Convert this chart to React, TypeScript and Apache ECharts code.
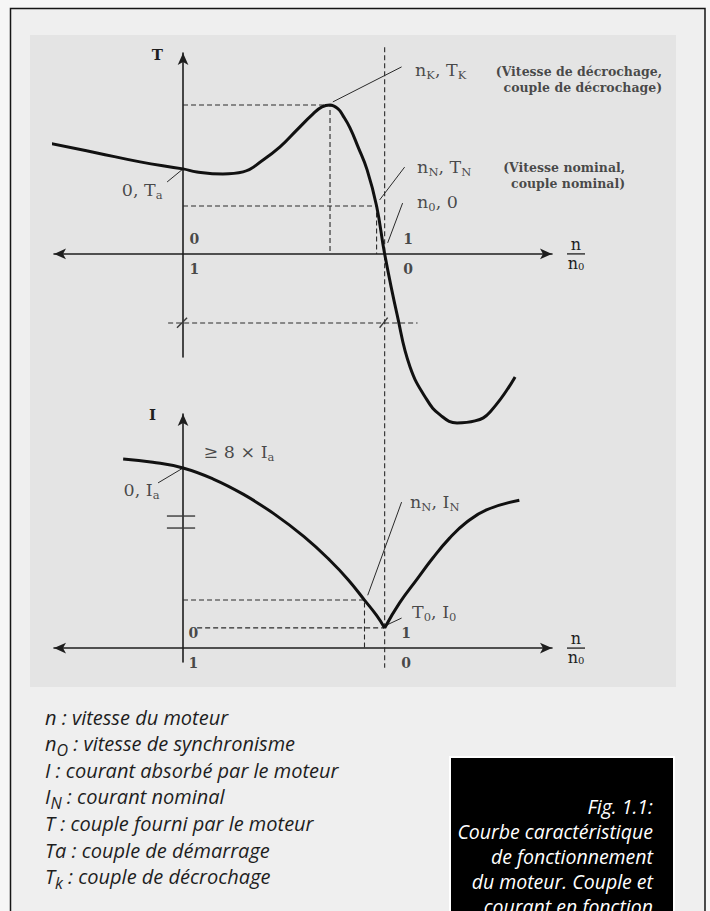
import React, { useEffect, useRef } from 'react';
import * as echarts from 'echarts';

// Torque curve: speed ratio n/n0 and torque (T_N = 1)
const torqueSpeed = [-0.67, -0.427, -0.213, 0, 0.069, 0.198, 0.298, 0.397, 0.481, 0.565, 0.645, 0.689, 0.729, 0.769, 0.794, 0.828, 0.868, 0.913, 0.96, 1.0, 1.062, 1.126, 1.21, 1.275, 1.359, 1.448, 1.523, 1.647];
const torqueValue = [2.315, 2.106, 1.919, 1.773, 1.71, 1.668, 1.71, 1.96, 2.231, 2.586, 2.92, 3.066, 3.107, 3.024, 2.878, 2.628, 2.231, 1.752, 1.0, 0, -1.272, -2.357, -3.045, -3.358, -3.525, -3.483, -3.295, -2.565];

// Current curve (I_N = 1): branch below synchronism, then branch above it
const currentSpeedLow = [-0.297, -0.15, 0, 0.15, 0.3, 0.45, 0.6, 0.728, 0.82, 0.9, 0.96, 1.0];
const currentValueLow = [3.94, 3.87, 3.75, 3.52, 3.2, 2.8, 2.32, 1.83, 1.42, 1.0, 0.68, 0.42];
const currentSpeedHigh = [1.0, 1.074, 1.158, 1.238, 1.322, 1.406, 1.505, 1.668];
const currentValueHigh = [0.42, 0.94, 1.42, 1.87, 2.29, 2.62, 2.88, 3.08];

// Characteristic points
const pullOutSpeed = 0.729; // n_K
const pullOutTorque = 3.107; // T_K
const nominalSpeed = 0.96; // n_N
const nominalTorque = 1.0; // T_N
const startTorque = 1.773; // T_a
const nominalCurrentSpeed = 0.9;
const nominalCurrent = 1.0; // I_N
const noLoadCurrent = 0.42; // I_0
const startCurrent = 3.75; // I_a
const dimensionLevel = -1.44;

// Tick labels: n/n0 above the axis, slip below it
const speedTicks = [0, 1];
const speedLabels = ['0', '1'];
const slipLabels = ['1', '0'];

const legendItems: [string, string, string][] = [
  ['n', '', 'vitesse du moteur'],
  ['n', 'O', 'vitesse de synchronisme'],
  ['I', '', 'courant absorbé par le moteur'],
  ['I', 'N', 'courant nominal'],
  ['T', '', 'couple fourni par le moteur'],
  ['Ta', '', 'couple de démarrage'],
  ['T', 'k', 'couple de décrochage'],
];

const captionLines = [
  'Fig. 1.1:',
  'Courbe caractéristique',
  'de fonctionnement',
  'du moteur. Couple et',
  'courant en fonction',
];

const SERIF = '"DejaVu Serif", "Liberation Serif", serif';
const SANS = '"Open Sans", Lato, sans-serif';
const INK = '#1e1e1e';

const X_MIN = -0.64;
const X_MAX = 1.83;
const T_MIN = -2.15;
const T_MAX = 4.19;
const I_MIN = -0.29;
const I_MAX = 4.875;

const zip = (xs: number[], ys: number[]) => xs.map((x, i) => [x, ys[i]]);

const annotationRich = {
  m: { fontFamily: SERIF, fontSize: 17.5, color: INK, lineHeight: 20 },
  s: { fontFamily: SERIF, fontSize: 11.5, color: INK, lineHeight: 14, padding: [10, 0, 0, 0] },
  t: { fontFamily: SERIF, fontWeight: 'bold', fontSize: 14, color: INK, lineHeight: 30 },
};

const fractionRich = {
  n: { fontFamily: SERIF, fontSize: 16, color: INK, lineHeight: 18, align: 'center' },
  bar: { width: 18, height: 1.3, backgroundColor: INK, align: 'center' },
  z: { fontFamily: SERIF, fontSize: 10, color: INK, lineHeight: 18, padding: [6, 0, 0, 0], align: 'center' },
};

function speedAxis(gridIndex: number) {
  return {
    type: 'value',
    gridIndex,
    min: X_MIN,
    max: X_MAX,
    position: 'bottom',
    axisLine: {
      show: true,
      onZero: true,
      symbol: ['arrow', 'arrow'],
      symbolSize: [8, 12],
      lineStyle: { color: INK, width: 1.6 },
    },
    axisTick: { show: false },
    splitLine: { show: false },
    axisLabel: { show: false },
    name: '{n|n}\n{bar|}\n{n|n}{z|0}',
    nameLocation: 'end',
    nameGap: 15,
    nameMoveOverlap: false,
    nameTextStyle: { rich: fractionRich },
  };
}

function valueAxis(gridIndex: number, min: number, max: number, name: string, padRight: number, gap: number) {
  return {
    type: 'value',
    gridIndex,
    min,
    max,
    axisLine: {
      show: true,
      onZero: true,
      symbol: ['none', 'arrow'],
      symbolSize: [8, 12],
      lineStyle: { color: INK, width: 1.6 },
    },
    axisTick: { show: false },
    axisLabel: { show: false },
    splitLine: { show: false },
    name,
    nameLocation: 'end',
    nameGap: gap,
    nameMoveOverlap: false,
    nameTextStyle: {
      align: 'right',
      verticalAlign: 'middle',
      padding: [0, padRight, 0, 0],
      fontFamily: SERIF,
      fontWeight: 'bold',
      fontSize: 15,
      color: INK,
    },
  };
}

function path(data: number[][], axis: number, lineStyle: any, smooth: number | boolean = false) {
  return {
    type: 'line',
    xAxisIndex: axis,
    yAxisIndex: axis,
    data,
    smooth,
    symbol: 'none',
    clip: false,
    silent: true,
    lineStyle,
  };
}

const curveStyle = { color: '#111', width: 3 };
const guideStyle = { color: '#2a2a2a', width: 1.1, type: [5, 3] };
const leaderStyle = { color: '#2a2a2a', width: 1 };
const markStyle = { color: '#3a3a3a', width: 1.4 };

function notes(axis: number, data: any[]) {
  return {
    type: 'scatter',
    xAxisIndex: axis,
    yAxisIndex: axis,
    symbolSize: 1,
    clip: false,
    silent: true,
    itemStyle: { color: 'rgba(0,0,0,0)' },
    label: {
      show: true,
      position: 'right',
      distance: 0,
      color: INK,
      fontFamily: SERIF,
      fontSize: 16,
      rich: annotationRich,
    },
    data,
  };
}

// n/n0 value above the axis and slip value below it, at each tick
function tickNotes(pads: number[]) {
  return speedTicks.map((v, i) => ({
    value: [v, 0],
    label: {
      formatter: `{t|${speedLabels[i]}}\n{t|${slipLabels[i]}}`,
      offset: [pads[i], 0],
    },
  }));
}

const descStyle = {
  fontFamily: SERIF,
  fontWeight: 'bold',
  fontSize: 12.5,
  lineHeight: 16,
  align: 'right',
  color: INK,
};

function buildOption() {
  const legendGraphics = legendItems.map(([sym, sub, text], i) => ({
    type: 'text',
    z: 10,
    silent: true,
    style: {
      x: 45,
      y: 717 + i * 26.6,
      verticalAlign: 'middle',
      text: sub ? `{m|${sym}}{s|${sub}}{m| : ${text}}` : `{m|${sym} : ${text}}`,
      fill: INK,
      font: `italic 20px ${SANS}`,
      rich: {
        m: { font: `italic 20px ${SANS}`, fill: INK, lineHeight: 20 },
        s: { font: `italic 16px ${SANS}`, fill: INK, lineHeight: 10, padding: [12, 0, 0, 0] },
      },
    },
  }));

  return {
    animation: false,
    backgroundColor: '#f6f6f6',
    grid: [
      { left: 54, top: 53, width: 498, height: 304 },
      { left: 54, top: 414, width: 498, height: 248 },
    ],
    xAxis: [speedAxis(0), speedAxis(1)],
    yAxis: [valueAxis(0, T_MIN, T_MAX, 'T', 20, -2), valueAxis(1, I_MIN, I_MAX, 'I', 27, -1)],
    graphic: [
      {
        type: 'rect',
        z: -20,
        silent: true,
        shape: { x: 10.5, y: 8.5, width: 694.5, height: 1000 },
        style: { fill: '#efefef', stroke: '#151515', lineWidth: 1.5 },
      },
      {
        type: 'rect',
        z: -19,
        silent: true,
        shape: { x: 30, y: 35, width: 646, height: 652 },
        style: { fill: '#e4e4e4' },
      },
      ...legendGraphics,
      {
        type: 'rect',
        z: 10,
        silent: true,
        shape: { x: 450, y: 757, width: 224, height: 200 },
        style: { fill: '#000', stroke: '#ffffff', lineWidth: 2 },
      },
      {
        type: 'text',
        z: 11,
        silent: true,
        style: {
          x: 653,
          y: 794,
          align: 'right',
          verticalAlign: 'top',
          text: captionLines.join('\n'),
          font: `italic 19.5px ${SANS}`,
          lineHeight: 25,
          fill: '#ffffff',
        },
      },
    ],
    series: [
      // torque chart guides
      path([[0, pullOutTorque], [pullOutSpeed, pullOutTorque], [pullOutSpeed, 0]], 0, guideStyle),
      path([[0, nominalTorque], [nominalSpeed, nominalTorque], [nominalSpeed, 0]], 0, guideStyle),
      path([[-0.074, dimensionLevel], [1.163, dimensionLevel]], 0, guideStyle),
      path([[1, 4.31], [1, -8.63]], 0, guideStyle),
      path([[-0.03, dimensionLevel - 0.1], [0.02, dimensionLevel + 0.11]], 0, markStyle),
      path([[0.975, dimensionLevel - 0.1], [1.015, dimensionLevel + 0.11]], 0, markStyle),
      // torque chart leaders
      path([[0.743, 3.17], [1.084, 3.9]], 0, leaderStyle),
      path([[0.975, 1.125], [1.099, 1.81]], 0, leaderStyle),
      path([[1.015, 0.23], [1.089, 1.06]], 0, leaderStyle),
      path([[-0.079, 1.5], [0, startTorque]], 0, leaderStyle),
      // torque curve
      path(zip(torqueSpeed, torqueValue), 0, curveStyle, 0.45),

      // current chart guides
      path([[0, nominalCurrent], [nominalCurrentSpeed, nominalCurrent], [nominalCurrentSpeed, 0]], 1, guideStyle),
      path([[0.07, noLoadCurrent], [1, noLoadCurrent]], 1, guideStyle),
      path([[-0.08, 2.75], [0.06, 2.75]], 1, markStyle),
      path([[-0.08, 2.5], [0.06, 2.5]], 1, markStyle),
      // current chart leaders
      path([[-0.124, 3.44], [0, startCurrent]], 1, leaderStyle),
      path([[0.916, 1.1], [1.084, 3.04]], 1, leaderStyle),
      path([[1.0, 0.46], [1.084, 0.625]], 1, leaderStyle),
      // current curve
      path(zip(currentSpeedLow, currentValueLow), 1, curveStyle, 0.45),
      path(zip(currentSpeedHigh, currentValueHigh), 1, curveStyle, 0.45),

      notes(0, [
        ...tickNotes([6, 18]),
        { value: [1.084, 3.9], label: { formatter: '{m|n}{s|K}{m|, T}{s|K}', offset: [13, 3] } },
        { value: [1.084, 3.9], label: { formatter: '(Vitesse de décrochage,\ncouple de décrochage)', offset: [260, 13], ...descStyle } },
        { value: [1.099, 1.81], label: { formatter: '{m|n}{s|N}{m|, T}{s|N}', offset: [12, 0] } },
        { value: [1.099, 1.81], label: { formatter: '(Vitesse nominal,\ncouple nominal)', offset: [220, 8], ...descStyle } },
        { value: [1.089, 1.06], label: { formatter: '{m|n}{s|0}{m|, 0}', offset: [14, -1] } },
        { value: [-0.079, 1.5], label: { formatter: '{m|0, T}{s|a}', position: 'left', offset: [-4, 8] } },
      ]),
      notes(1, [
        ...tickNotes([5, 16]),
        { value: [0, startCurrent], label: { formatter: '{m|≥ 8 × I}{s|a}', offset: [20, -16] } },
        { value: [-0.124, 3.44], label: { formatter: '{m|0, I}{s|a}', position: 'left', offset: [2, 7] } },
        { value: [1.084, 3.04], label: { formatter: '{m|n}{s|N}{m|, I}{s|N}', offset: [8, 0] } },
        { value: [1.084, 0.625], label: { formatter: '{m|T}{s|0}{m|, I}{s|0}', offset: [10, -6] } },
      ]),
    ],
  };
}

export default function App() {
  const ref = useRef<HTMLDivElement>(null);
  useEffect(() => {
    const chart = echarts.init(ref.current as HTMLDivElement, undefined, { renderer: 'svg' });
    chart.setOption(buildOption() as any);
    return () => chart.dispose();
  }, []);
  return <div ref={ref} style={{ position: 'fixed', left: 0, top: 0, width: 710, height: 911 }} />;
}
